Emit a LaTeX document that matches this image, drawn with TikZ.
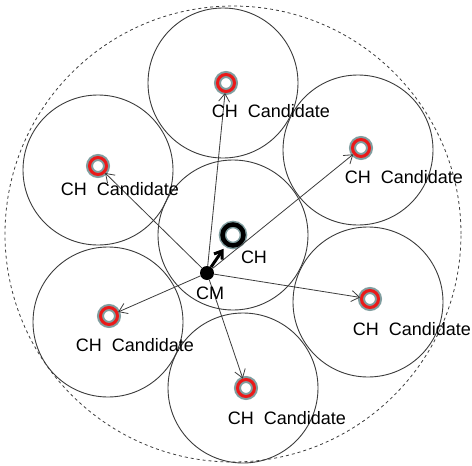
\documentclass[tikz,border=0pt]{standalone}
\usepackage{fontspec}
\setmainfont{Liberation Sans}
\usetikzlibrary{arrows.meta}

\definecolor{halo}{RGB}{128,158,160}
\definecolor{ringred}{RGB}{235,25,25}
\definecolor{edge}{RGB}{60,60,60}

\tikzset{
  zone/.style={draw=edge, line width=0.9pt},
  cand/.style={circle, draw=ringred, line width=3pt, minimum size=17pt, inner sep=0pt, preaction={draw=halo, line width=7pt}},
  head/.style={circle, draw=black, line width=4.5pt, minimum size=21pt, inner sep=0pt, preaction={draw=halo, line width=7.5pt}},
  member/.style={circle, fill=black, minimum size=14pt, inner sep=0pt},
  lab/.style={font=\fontsize{18}{21}\selectfont, inner sep=0pt},
  link/.style={draw=edge, line width=0.8pt, -{Straight Barb[length=8pt,width=11pt]}},
}

\begin{document}
\begin{tikzpicture}[x=1pt, y=-1pt]
        \useasboundingbox (0,0) rectangle (472,466);
        \draw[edge, dashed, line width=0.8pt] (233,234) circle[radius=228pt];
        \draw[zone] (233,235) circle[radius=75pt];
        \draw[zone] (223,83) circle[radius=75pt];
        \draw[zone] (358,150) circle[radius=75pt];
        \draw[zone] (98,170) circle[radius=75pt];
        \draw[zone] (108,322) circle[radius=75pt];
        \draw[zone] (243,388) circle[radius=75pt];
        \draw[zone] (368,302) circle[radius=75pt];
        \node[cand] (cN) at (226,83) {};
        \node[cand] (cNE) at (361,148) {};
        \node[cand] (cNW) at (98,166) {};
        \node[cand] (cSW) at (109,316) {};
        \node[cand] (cS) at (246,388) {};
        \node[cand] (cSE) at (370,299) {};
        \node[head] (ch) at (233,235) {};
        \node[member] (cm) at (207,273) {};
        \draw[link] (cm) -- (cN);
        \draw[link] (cm) -- (cNE);
        \draw[link] (cm) -- (cNW);
        \draw[link] (cm) -- (cSW);
        \draw[link] (cm) -- (cS);
        \draw[link] (cm) -- (cSE);
        \draw[line width=3pt, -{Straight Barb[length=7pt,width=10pt]}, shorten >=4pt] (cm) -- (ch);
        \node[lab] (lN) at (271,111) {CH\ \ Candidate};
        \node[lab] (lNE) at (404,177) {CH\ \ Candidate};
        \node[lab] (lNW) at (120,189) {CH\ \ Candidate};
        \node[lab] (lSW) at (135,345) {CH\ \ Candidate};
        \node[lab] (lS) at (287,418) {CH\ \ Candidate};
        \node[lab] (lSE) at (412,329) {CH\ \ Candidate};
        \node[lab] (lch) at (254,257) {CH};
        \node[lab] (lcm) at (210,293) {CM};
    \end{tikzpicture}
\end{document}
